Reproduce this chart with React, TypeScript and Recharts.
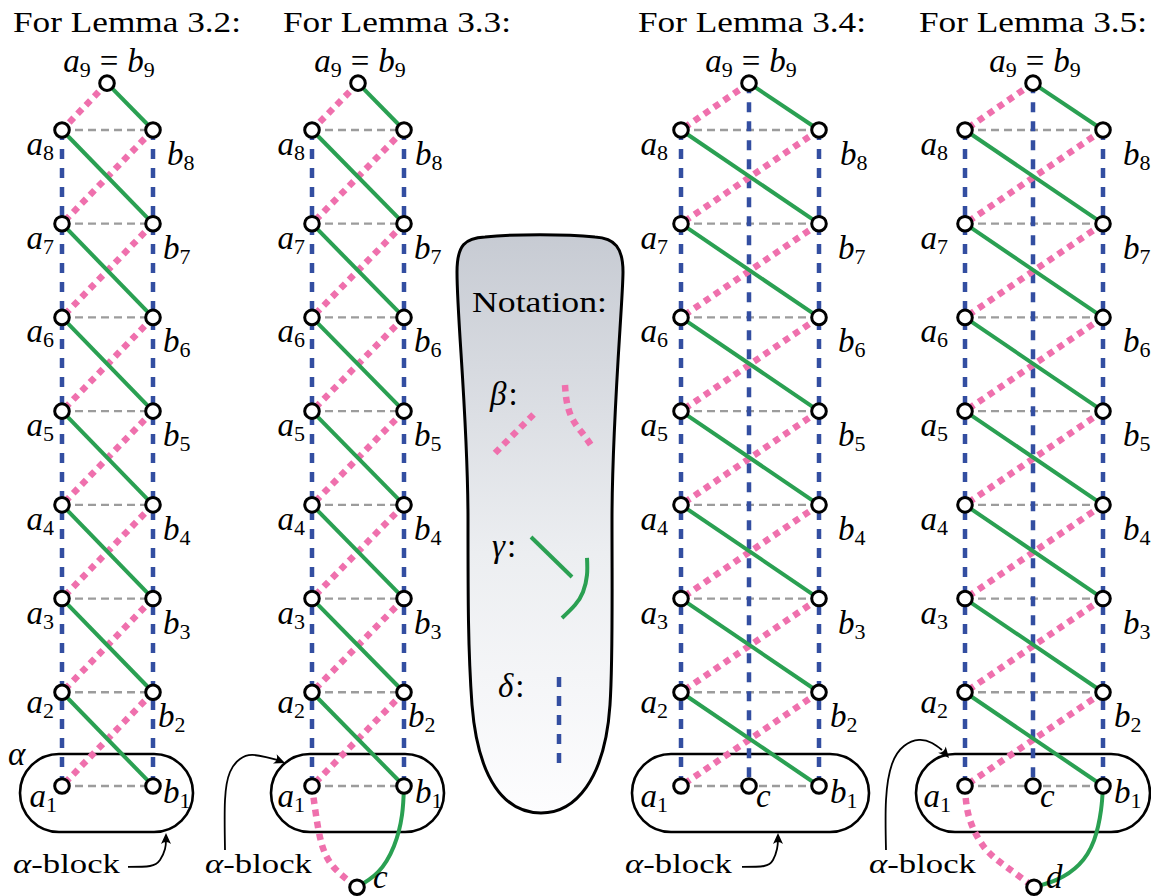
import React from "react";
import { ComposedChart, XAxis, YAxis, Line, Scatter, ReferenceArea } from "recharts";

// ---------------- data (x in horizontal units, y in row levels) ----------------
const X_DOMAIN: [number, number] = [0, 1151];
const Y_DOMAIN: [number, number] = [-0.1741, 9.3873];

const PANEL_TITLES = ["For Lemma 3.2:", "For Lemma 3.3:", "For Lemma 3.4:", "For Lemma 3.5:"];
const TITLE_X = [13, 283, 638, 919];
const TITLE_LEVEL = 9.046;

const COL_A = [62, 312, 681, 965];
const COL_B = [153, 404, 819, 1103];
const COL_C: (number | null)[] = [null, null, 749, 1033];
const TOP_X = [107, 358, 749, 1033];
const LEVELS = [1, 2, 3, 4, 5, 6, 7, 8];
const TOP_LEVEL = 8.5;
const TOP_INDEX = "9";

const EXTRA_NAME: (string | null)[] = [null, "c", null, "d"];
const EXTRA_X: (number | null)[] = [null, 357, null, 1034];
const EXTRA_LEVEL = -0.08;

const PINK_CURVES: ({ x: number; y: number }[] | null)[] = [
  null,
  [
    { x: 312, y: 1 },
    { x: 316, y: 0.69 },
    { x: 322, y: 0.37 },
    { x: 334, y: 0.13 },
    { x: 357, y: -0.08 },
  ],
  null,
  [
    { x: 965, y: 1 },
    { x: 969, y: 0.67 },
    { x: 984, y: 0.35 },
    { x: 1006, y: 0.14 },
    { x: 1034, y: -0.08 },
  ],
];
const GREEN_CURVES: ({ x: number; y: number }[] | null)[] = [
  null,
  [
    { x: 404, y: 1 },
    { x: 402, y: 0.69 },
    { x: 394, y: 0.36 },
    { x: 378, y: 0.08 },
    { x: 357, y: -0.08 },
  ],
  null,
  [
    { x: 1103, y: 1 },
    { x: 1101, y: 0.74 },
    { x: 1094, y: 0.42 },
    { x: 1079, y: 0.16 },
    { x: 1057, y: 0.0 },
    { x: 1034, y: -0.08 },
  ],
];

const BLOCK_X1 = [20, 271, 632, 916];
const BLOCK_X2 = [193, 444, 869, 1150];
const BLOCK_Y1 = 0.509;
const BLOCK_Y2 = 1.341;
const BLOCK_LABEL_X = [13, 205, 625, 869];
const BLOCK_LABEL_LEVEL = 0.071;
const BLOCK_ARROWS = [
  [
    { x: 128, y: 0.136 },
    { x: 150, y: 0.146 },
    { x: 160, y: 0.21 },
    { x: 165, y: 0.328 },
    { x: 166, y: 0.424 },
  ],
  [
    { x: 225, y: 0.317 },
    { x: 225, y: 0.851 },
    { x: 230, y: 1.149 },
    { x: 240, y: 1.288 },
    { x: 252, y: 1.331 },
    { x: 266, y: 1.309 },
    { x: 278, y: 1.277 },
  ],
  [
    { x: 742, y: 0.136 },
    { x: 764, y: 0.146 },
    { x: 773, y: 0.21 },
    { x: 777, y: 0.328 },
    { x: 778, y: 0.424 },
  ],
  [
    { x: 886, y: 0.317 },
    { x: 886, y: 0.851 },
    { x: 892, y: 1.234 },
    { x: 904, y: 1.426 },
    { x: 919, y: 1.491 },
    { x: 932, y: 1.459 },
    { x: 942, y: 1.384 },
  ],
];
const ARROW_TIPS = [
  { x: 166, y: 0.498 },
  { x: 285, y: 1.245 },
  { x: 778, y: 0.498 },
  { x: 949, y: 1.298 },
];
const ALPHA_MARK = { x: 8, y: 1.224 };

const NOTATION_BOX = { x1: 457, x2: 623, y1: 0.712, y2: 6.88 };
const NOTATION_TITLE = { x: 472, y: 6.058 };
const NOTATION_SYMBOLS = [
  { sym: "β", x: 490, y: 5.065 },
  { sym: "γ", x: 492, y: 3.443 },
  { sym: "δ", x: 498, y: 1.95 },
];
const BETA_STRAIGHT = [
  { x: 495, y: 4.553 },
  { x: 535, y: 4.98 },
];
const BETA_CURVE = [
  { x: 565, y: 5.279 },
  { x: 567, y: 5.087 },
  { x: 573, y: 4.905 },
  { x: 583, y: 4.756 },
  { x: 593, y: 4.607 },
];
const GAMMA_STRAIGHT = [
  { x: 531, y: 3.657 },
  { x: 572, y: 3.23 },
];
const GAMMA_CURVE = [
  { x: 587, y: 3.433 },
  { x: 587, y: 3.251 },
  { x: 583, y: 3.07 },
  { x: 575, y: 2.931 },
  { x: 562, y: 2.792 },
];
const DELTA_LINE = [
  { x: 559, y: 2.163 },
  { x: 559, y: 1.224 },
];

// ---------------- styles ----------------
const SERIF = "Liberation Serif";
const FONT_STYLE = { fontFamily: '"Liberation Serif", "Times New Roman", Times, serif' };
const GREEN = "#2aa052";
const PINK = "#ef70ad";
const BLUE = "#334ea1";
const GREY = "#9c9c9c";

const STY = {
  grey: { stroke: GREY, strokeWidth: 2.3, strokeDasharray: "8 5" },
  blue: { stroke: BLUE, strokeWidth: 4.5, strokeDasharray: "10 9" },
  pink: { stroke: PINK, strokeWidth: 6.5, strokeDasharray: "6.5 5.5" },
  green: { stroke: GREEN, strokeWidth: 4, strokeDasharray: undefined as string | undefined },
  arrow: { stroke: "#000", strokeWidth: 1.8, strokeDasharray: undefined as string | undefined },
};

const A_DX = [-8, -7, -13, -17];
const A1_DX = [-5, -7, -13, -14];
const B_DX = [10, 10, 19, 20];
const B8_DX = [14, 11, 21, 20];
const B2_DX = [5, 4, 11, 11];
const B1_DX = [10, 11, 11, 11];
const EXTRA_DX = [0, 16, 0, 12];
const EXTRA_DY = [0, 1, 0, 1];
const ARROW_ANGLE = [-90, 22, -90, 50];

type Pt = { x: number; y: number };
type SegKind = "grey" | "blue" | "pink" | "green" | "arrow";

// build segment tables
const segments: { kind: SegKind; pts: Pt[]; curve?: boolean }[] = [];
const nodes: Pt[] = [];
const labels: any[] = [];

const TOP_ROW = LEVELS[LEVELS.length - 1];
const BOT_ROW = LEVELS[0];

for (let p = 0; p < 4; p++) {
  const A = COL_A[p];
  const B = COL_B[p];
  LEVELS.forEach((l) => segments.push({ kind: "grey", pts: [{ x: A, y: l }, { x: B, y: l }] }));
}
for (let p = 0; p < 4; p++) {
  const A = COL_A[p];
  const B = COL_B[p];
  const C = COL_C[p];
  segments.push({ kind: "blue", pts: [{ x: A, y: TOP_ROW }, { x: A, y: BOT_ROW }] });
  segments.push({ kind: "blue", pts: [{ x: B, y: TOP_ROW }, { x: B, y: BOT_ROW }] });
  if (C != null) segments.push({ kind: "blue", pts: [{ x: C, y: TOP_LEVEL }, { x: C, y: BOT_ROW }] });
}
for (let p = 0; p < 4; p++) {
  const A = COL_A[p];
  const B = COL_B[p];
  const T = TOP_X[p];
  segments.push({ kind: "pink", pts: [{ x: T, y: TOP_LEVEL }, { x: A, y: TOP_ROW }] });
  LEVELS.forEach((l) => {
    if (l > BOT_ROW) segments.push({ kind: "pink", pts: [{ x: B, y: l }, { x: A, y: l - 1 }] });
  });
  const pc = PINK_CURVES[p];
  if (pc) segments.push({ kind: "pink", pts: pc, curve: true });
}
segments.push({ kind: "pink", pts: BETA_STRAIGHT });
segments.push({ kind: "pink", pts: BETA_CURVE, curve: true });
for (let p = 0; p < 4; p++) {
  const A = COL_A[p];
  const B = COL_B[p];
  const T = TOP_X[p];
  segments.push({ kind: "green", pts: [{ x: T, y: TOP_LEVEL }, { x: B, y: TOP_ROW }] });
  LEVELS.forEach((l) => {
    if (l > BOT_ROW) segments.push({ kind: "green", pts: [{ x: A, y: l }, { x: B, y: l - 1 }] });
  });
  const gc = GREEN_CURVES[p];
  if (gc) segments.push({ kind: "green", pts: gc, curve: true });
}
segments.push({ kind: "green", pts: GAMMA_STRAIGHT });
segments.push({ kind: "green", pts: GAMMA_CURVE, curve: true });
segments.push({ kind: "blue", pts: DELTA_LINE });
BLOCK_ARROWS.forEach((pts) => segments.push({ kind: "arrow", pts, curve: true }));

for (let p = 0; p < 4; p++) {
  const A = COL_A[p];
  const B = COL_B[p];
  const C = COL_C[p];
  const T = TOP_X[p];
  LEVELS.forEach((l) => {
    nodes.push({ x: A, y: l });
    nodes.push({ x: B, y: l });
    labels.push({
      x: A, y: l, kind: "math", main: "a", sub: String(l), anchor: "end",
      dx: l === 1 ? A1_DX[p] : A_DX[p], dy: l <= 2 ? 21 : 25,
    });
    labels.push({
      x: B, y: l, kind: "math", main: "b", sub: String(l), anchor: "start",
      dx: l === 8 ? B8_DX[p] : l === 2 ? B2_DX[p] : l === 1 ? B1_DX[p] : B_DX[p],
      dy: l === 1 ? 17 : 35,
    });
  });
  nodes.push({ x: T, y: TOP_LEVEL });
  labels.push({ x: T, y: TOP_LEVEL, kind: "top", sub: TOP_INDEX, anchor: "middle", dx: 2, dy: -11 });
  if (C != null) {
    nodes.push({ x: C, y: BOT_ROW });
    labels.push({ x: C, y: BOT_ROW, kind: "math", main: "c", anchor: "start", dx: 7, dy: 21 });
  }
  const en = EXTRA_NAME[p];
  const ex = EXTRA_X[p];
  if (en && ex != null) {
    nodes.push({ x: ex, y: EXTRA_LEVEL });
    labels.push({ x: ex, y: EXTRA_LEVEL, kind: "math", main: en, anchor: "start", dx: EXTRA_DX[p], dy: EXTRA_DY[p] });
  }
  labels.push({ x: TITLE_X[p], y: TITLE_LEVEL, kind: "title", text: PANEL_TITLES[p] });
  labels.push({ x: BLOCK_LABEL_X[p], y: BLOCK_LABEL_LEVEL, kind: "block" });
}
labels.push({ x: ALPHA_MARK.x, y: ALPHA_MARK.y, kind: "math", main: "α", anchor: "start", dx: 0, dy: 0 });
labels.push({ x: NOTATION_TITLE.x, y: NOTATION_TITLE.y, kind: "notation" });
NOTATION_SYMBOLS.forEach((s) => labels.push({ x: s.x, y: s.y, kind: "sym", main: s.sym }));

const arrowTips = ARROW_TIPS.map((t, i) => ({ ...t, angle: ARROW_ANGLE[i] }));

// ---------------- shapes ----------------
const NodeShape = (props: any) => {
  const { cx, cy } = props;
  if (cx == null || cy == null) return <g />;
  return <circle cx={cx} cy={cy} r={7.3} fill="#fff" stroke="#000" strokeWidth={3} />;
};

const ArrowHead = (props: any) => {
  const { cx, cy, payload } = props;
  if (cx == null || cy == null) return <g />;
  return (
    <path
      d="M0,0 L-11,-5 Q-7,0 -11,5 Z"
      fill="#000"
      transform={`translate(${cx},${cy}) rotate(${payload.angle})`}
    />
  );
};

const LabelShape = (props: any) => {
  const { cx, cy, payload: p } = props;
  if (cx == null || cy == null) return <g />;
  const common = { fontFamily: SERIF, style: FONT_STYLE, fill: "#000" };
  if (p.kind === "math") {
    return (
      <text x={cx + p.dx} y={cy + p.dy} textAnchor={p.anchor} fontSize={33} {...common}>
        <tspan fontStyle="italic">{p.main}</tspan>
        {p.sub ? (
          <tspan fontSize={22} dy={5}>
            {p.sub}
          </tspan>
        ) : null}
      </text>
    );
  }
  if (p.kind === "top") {
    return (
      <text x={cx + p.dx} y={cy + p.dy} textAnchor="middle" fontSize={33} {...common}>
        <tspan fontStyle="italic">a</tspan>
        <tspan fontSize={22} dy={5}>
          {p.sub}
        </tspan>
        <tspan dy={-5} dx={9}>
          =
        </tspan>
        <tspan fontStyle="italic" dx={9}>
          b
        </tspan>
        <tspan fontSize={22} dy={5}>
          {p.sub}
        </tspan>
      </text>
    );
  }
  if (p.kind === "title") {
    return (
      <text x={cx} y={cy} fontSize={29} textLength={228} lengthAdjust="spacingAndGlyphs" {...common}>
        {p.text}
      </text>
    );
  }
  if (p.kind === "block") {
    return (
      <text x={cx} y={cy} fontSize={27} textLength={107} lengthAdjust="spacingAndGlyphs" {...common}>
        <tspan fontStyle="italic">α</tspan>-block
      </text>
    );
  }
  if (p.kind === "notation") {
    return (
      <text x={cx} y={cy} fontSize={29} textLength={135} lengthAdjust="spacingAndGlyphs" {...common}>
        Notation:
      </text>
    );
  }
  if (p.kind === "sym") {
    return (
      <text x={cx} y={cy} fontSize={33} {...common}>
        <tspan fontStyle="italic">{p.main}</tspan>
        <tspan dx={2}>:</tspan>
      </text>
    );
  }
  return <g />;
};

const StadiumShape = (props: any) => {
  const { x, y, width, height } = props;
  return (
    <rect x={x} y={y} width={width} height={height} rx={height / 2} ry={height / 2} fill="none" stroke="#000" strokeWidth={2.6} />
  );
};

const NotationShape = (props: any) => {
  const { x, y, width, height } = props;
  const sx = width / 166;
  const sy = height / 578;
  const P = (px: number, py: number) => `${(x + px * sx).toFixed(2)},${(y + py * sy).toFixed(2)}`;
  const d = [
    `M ${P(0, 37)}`,
    `C ${P(0, 10)} ${P(8, 3)} ${P(28, 2)}`,
    `C ${P(58, -1)} ${P(108, -1)} ${P(138, 2)}`,
    `C ${P(158, 3)} ${P(166, 13)} ${P(166, 37)}`,
    `C ${P(166, 65)} ${P(155, 185)} ${P(155, 285)}`,
    `C ${P(155, 365)} ${P(156, 425)} ${P(153, 470)}`,
    `C ${P(148, 545)} ${P(118, 578)} ${P(84, 578)}`,
    `C ${P(48, 578)} ${P(21, 545)} ${P(15, 470)}`,
    `C ${P(11, 415)} ${P(11, 365)} ${P(11, 285)}`,
    `C ${P(11, 185)} ${P(0, 85)} ${P(0, 37)}`,
    "Z",
  ].join(" ");
  return (
    <g>
      <defs>
        <linearGradient id="notationFill" x1="0" y1="0" x2="0" y2="1">
          <stop offset="0%" stopColor="#c7cbd3" />
          <stop offset="55%" stopColor="#eceef1" />
          <stop offset="100%" stopColor="#fdfdfe" />
        </linearGradient>
      </defs>
      <path d={d} fill="url(#notationFill)" stroke="#000" strokeWidth={3} />
    </g>
  );
};

export default function App() {
  return (
    <div style={{ width: 1151, height: 896 }}>
      <style>{"html,body{margin:0;padding:0;background:#fff;}"}</style>
      <ComposedChart width={1151} height={896} margin={{ top: 0, right: 0, bottom: 0, left: 0 }}>
        <XAxis type="number" dataKey="x" domain={X_DOMAIN} allowDataOverflow hide />
        <YAxis type="number" dataKey="y" domain={Y_DOMAIN} allowDataOverflow hide />

        <ReferenceArea
          x1={NOTATION_BOX.x1}
          x2={NOTATION_BOX.x2}
          y1={NOTATION_BOX.y1}
          y2={NOTATION_BOX.y2}
          shape={NotationShape}
          ifOverflow="visible"
        />
        {BLOCK_X1.map((x1, i) => (
          <ReferenceArea
            key={`blk${i}`}
            x1={x1}
            x2={BLOCK_X2[i]}
            y1={BLOCK_Y1}
            y2={BLOCK_Y2}
            shape={StadiumShape}
            ifOverflow="visible"
          />
        ))}

        {segments.map((s, i) => {
          const st = STY[s.kind];
          return (
            <Line
              key={`seg${i}`}
              data={s.pts}
              dataKey="y"
              type={s.curve ? "natural" : "linear"}
              stroke={st.stroke}
              strokeWidth={st.strokeWidth}
              strokeDasharray={st.strokeDasharray}
              strokeLinecap="butt"
              fill="none"
              dot={false}
              activeDot={false}
              legendType="none"
              isAnimationActive={false}
            />
          );
        })}

        <Scatter data={arrowTips} dataKey="y" shape={ArrowHead} isAnimationActive={false} legendType="none" />
        <Scatter data={nodes} dataKey="y" shape={NodeShape} isAnimationActive={false} legendType="none" />
        <Scatter data={labels} dataKey="y" shape={LabelShape} isAnimationActive={false} legendType="none" />
      </ComposedChart>
    </div>
  );
}
